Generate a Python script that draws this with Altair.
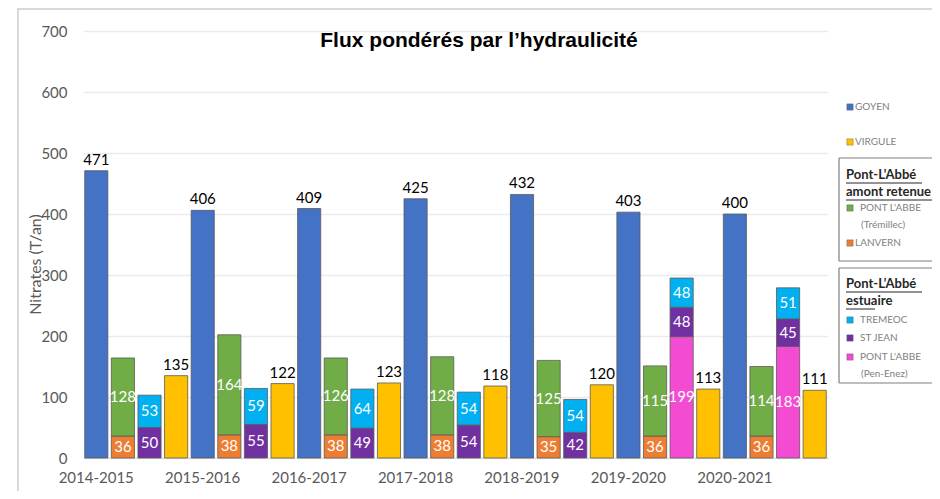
import altair as alt
import pandas as pd

# ---- data ----
seasons = ["2014-2015", "2015-2016", "2016-2017", "2017-2018", "2018-2019", "2019-2020", "2020-2021"]
goyen = [471, 406, 409, 425, 432, 403, 400]
lanvern = [36, 38, 38, 38, 35, 36, 36]
tremillec = [128, 164, 126, 128, 125, 115, 114]
pen_enez = [0, 0, 0, 0, 0, 199, 183]
st_jean = [50, 55, 49, 54, 42, 48, 45]
tremeoc = [53, 59, 64, 54, 54, 48, 51]
virgule = [135, 122, 123, 118, 120, 113, 111]

series_names = ["GOYEN", "LANVERN", "PONT L'ABBE (Trémillec)", "PONT L'ABBE (Pen-Enez)",
                "ST JEAN", "TREMEOC", "VIRGULE"]
series_values = [goyen, lanvern, tremillec, pen_enez, st_jean, tremeoc, virgule]
series_slot = ["s0", "s1", "s1", "s2", "s2", "s2", "s3"]
series_order = [0, 0, 1, 0, 1, 2, 0]
series_colors = ["#4472C4", "#ED7D31", "#70AD47", "#F34CD2", "#7030A0", "#00B0F0", "#FFC000"]
outside_labels = ["GOYEN", "VIRGULE"]

rows = []
for name, vals, slot, order in zip(series_names, series_values, series_slot, series_order):
    for s, v in zip(seasons, vals):
        rows.append({"season": s, "series": name, "slot": slot, "order": order, "value": v})
df = pd.DataFrame(rows)

FONT = "Lato"
GRAY = "#595959"

base = alt.Chart(df).transform_stack(
    stack="value", groupby=["season", "slot"], as_=["y0", "y1"],
    sort=[alt.SortField("order", order="ascending")]
).transform_filter("datum.value > 0")

x_enc = alt.X("season:N", sort=seasons, title=None,
              scale=alt.Scale(paddingInner=0, paddingOuter=0),
              axis=alt.Axis(labelOffset=-40, ticks=False, tickSize=0, domainColor="#D9D9D9",
                            domainWidth=1, labelAngle=0, labelFont=FONT, labelFontSize=15,
                            labelColor=GRAY, labelPadding=12, grid=False))
xo_enc = alt.XOffset("slot:N", sort=["s0", "s1", "s2", "s3"],
                     scale=alt.Scale(paddingInner=0.13, paddingOuter=0.065))
y_scale = alt.Scale(domain=[0, 700], nice=False)

bars = base.mark_bar(stroke="#5a5a5a", strokeWidth=0.8).encode(
    x=x_enc,
    xOffset=xo_enc,
    y=alt.Y("y0:Q", scale=y_scale, title="Nitrates (T/an)",
            axis=alt.Axis(values=[0, 100, 200, 300, 400, 500, 600, 700], domain=False,
                          ticks=False, tickSize=0, gridColor="#EBEBEB", gridWidth=1.5,
                          labelFont=FONT, labelFontSize=15, labelColor=GRAY, labelPadding=16,
                          titleFont=FONT, titleFontSize=16, titleColor=GRAY,
                          titleFontWeight="normal", titleAngle=-90, titleX=-48, titleY=233,
                          titleAlign="center", titleBaseline="middle")),
    y2="y1:Q",
    color=alt.Color("series:N", scale=alt.Scale(domain=series_names, range=series_colors),
                    legend=None),
)

inner_labels = base.transform_filter(
    alt.FieldOneOfPredicate(field="series", oneOf=outside_labels).__invert__()
).transform_calculate(mid="(datum.y0 + datum.y1) / 2").mark_text(
    font=FONT, fontSize=15, color="white", baseline="middle"
).encode(x=x_enc, xOffset=xo_enc, y=alt.Y("mid:Q", scale=y_scale), text="value:Q")

outer_labels = base.transform_filter(
    alt.FieldOneOfPredicate(field="series", oneOf=outside_labels)
).mark_text(font=FONT, fontSize=15, color="black", baseline="bottom", dy=-3).encode(
    x=x_enc, xOffset=xo_enc, y=alt.Y("y1:Q", scale=y_scale), text="value:Q")

one = pd.DataFrame({"a": [0]})


def txt(x, y, t, size=10, color="#7F7F7F", weight="normal", font=FONT, align="left"):
    return alt.Chart(one).mark_text(text=t, fontSize=size, color=color, fontWeight=weight,
                                    font=font, align=align, baseline="middle").encode(
        x=alt.value(x), y=alt.value(y))


def sq(x, y, color):
    return alt.Chart(one).mark_square(size=40, color=color, opacity=1,
                                      stroke="#5a5a5a", strokeWidth=0.4).encode(
        x=alt.value(x), y=alt.value(y))


def line(x, y, x2, y2, color="#7F7F7F", w=1.2):
    return alt.Chart(one).mark_rule(color=color, strokeWidth=w).encode(
        x=alt.value(x), y=alt.value(y), x2=alt.value(x2), y2=alt.value(y2))


OX, OY = 83, 31  # page offset of the plot area
RIGHT = 932 - OX
layers = []
# title
layers.append(txt(479 - OX, 41 - OY, "Flux pondérés par l’hydraulicité", size=21, color="black",
                  weight="bold", font="Liberation Sans", align="center"))
# frame
layers.append(line(18 - OX, 8 - OY, 18 - OX, 491 - OY, color="#D9D9D9", w=2))
layers.append(line(18 - OX, 9 - OY, RIGHT, 9 - OY, color="#D9D9D9", w=2))

# legend: (y, colour, [(text, x indent)])
legend_items = [
    (107, "#4472C4", [("GOYEN", 0)]),
    (142, "#FFC000", [("VIRGULE", 0)]),
    (208, "#70AD47", [("PONT L'ABBE", 5), ("(Trémillec)", 6)]),
    (243, "#ED7D31", [("LANVERN", 0)]),
    (320, "#00B0F0", [("TREMEOC", 5)]),
    (338, "#7030A0", [("ST JEAN", 5)]),
    (357, "#F34CD2", [("PONT L'ABBE", 5), ("(Pen-Enez)", 6)]),
]
for y, c, lines in legend_items:
    layers.append(sq(850 - OX, y - OY, c))
    for i, (t, ind) in enumerate(lines):
        layers.append(txt(855 + ind - OX, y - OY + i * 17, t, size=10))

# boxes
for top, bottom in [(158, 261), (268, 383)]:
    layers.append(line(839 - OX, top - OY, 839 - OX, bottom - OY))
    layers.append(line(839 - OX, top - OY, RIGHT, top - OY))
    layers.append(line(839 - OX, bottom - OY, RIGHT, bottom - OY))

box_titles = [(175, "Pont-L’Abbé", 922), (192, "amont retenue", 940),
              (284, "Pont-L’Abbé", 922), (301, "estuaire", 875)]
for y, t, xend in box_titles:
    layers.append(txt(846 - OX, y - OY, t, size=13, color="#262626", weight="bold"))
    layers.append(line(846 - OX, y + 8 - OY, min(xend, 932) - OX, y + 8 - OY, color="#262626", w=1))

chart = alt.layer(bars, inner_labels, outer_labels, *layers).properties(
    width=745, height=427,
    autosize=alt.AutoSizeParams(type="none"),
    padding={"left": 75, "top": 23, "right": 104, "bottom": 33},
    background="white",
).configure_view(stroke=None)

chart.save("out.html", embed_options={"renderer": "svg", "actions": False})
